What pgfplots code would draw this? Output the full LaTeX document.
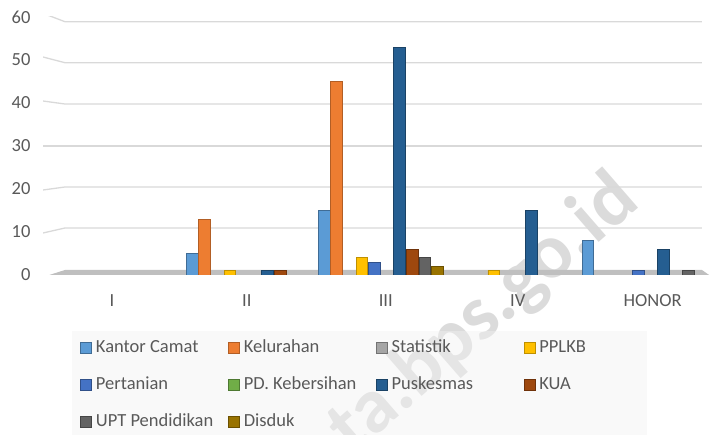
\documentclass[border=0pt]{standalone}
\usepackage{fontspec}
\setmainfont{Carlito}
\usepackage{pgfplots}
\usepackage{pgfplotstable}
\pgfplotsset{compat=1.18}
\definecolor{ckc}{HTML}{5B9BD5}
\definecolor{cke}{HTML}{ED7D31}
\definecolor{cst}{HTML}{A5A5A5}
\definecolor{cpp}{HTML}{FFC000}
\definecolor{cpe}{HTML}{4472C4}
\definecolor{cpd}{HTML}{70AD47}
\definecolor{cpu}{HTML}{255E91}
\definecolor{cku}{HTML}{9E480E}
\definecolor{cup}{HTML}{636363}
\definecolor{cdi}{HTML}{997300}
\definecolor{tickgray}{HTML}{595959}
\definecolor{gridc}{HTML}{D9D9D9}
\definecolor{legbg}{HTML}{F2F2F2}
\definecolor{floorc}{HTML}{BFBFBF}
\definecolor{floord}{HTML}{595959}

\pgfplotstableread{
x KC KE ST PP PE PD PU KU UP DI
0 0 0 0 0 0 0 0 0 0 0
1 5 13 0 1 0 0 1 1 0 0
2 15 45 0 4 3 0 53 6 4 2
3 0 0 0 1 0 0 15 0 0 0
4 8 0 0 0 1 0 6 0 1 0
}\datatable

\begin{document}
\begin{tikzpicture}
\node[rotate=41, text=black!14, font=\bfseries\fontsize{78bp}{78bp}\selectfont] at (484bp,120bp) {ta.bps.go.id};
\begin{axis}[
  at={(43bp,160bp)}, anchor=south west,
  scale only axis, width=669bp, height=258bp,
  xmin=-0.56, xmax=4.51, ymin=0, ymax=60,
  ybar=0.8bp, bar width=11.8bp,
  axis line style={draw=none},
  major tick length=0pt,
  xtick={-0.038,0.985,2.038,3.038,4.06},
  xticklabels={I,II,III,IV,HONOR},
  ytick={0,10,...,60},
  tick label style={font=\fontsize{18.5bp}{20bp}\selectfont, text=tickgray},
  /pgf/number format/assume math mode=true,
  xticklabel style={yshift=-16bp},
  yticklabel style={xshift=-9bp},
  legend columns=4,
  legend style={at={(axis description cs:0.0433,-0.217)}, anchor=north west,
    fill=legbg, fill opacity=0.45, text opacity=1, draw=none, inner xsep=8bp, inner ysep=10bp,
    column sep=0pt, row sep=23bp,
    font=\fontsize{18.5bp}{20bp}\selectfont, text=tickgray,
    nodes={inner sep=0pt, text height=11bp, text depth=3bp}},
  /tikz/every odd column/.append style={column sep=4bp},
  legend image code/.code={\draw[#1, line width=0.8bp, fill opacity=1] (0bp,-5.5bp) rectangle (11bp,5.5bp);},
  every axis plot/.append style={line width=0.9bp},
]
% floor
\fill[floorc] ([yshift=-2bp]axis cs:-0.56,0) -- ([yshift=5bp]axis cs:-0.394,0) -- ([yshift=5bp]axis cs:4.434,0) -- ([yshift=-2bp]axis cs:4.51,0) -- cycle;
\draw[floord, line width=2.2bp] ([yshift=-2bp]axis cs:-0.56,0) -- ([yshift=-2bp]axis cs:4.51,0);
% grid lines (back wall with side wall slant)
\draw[gridc, line width=1.3bp] ([yshift=-1bp]axis cs:-0.56,10) -- ([yshift=4bp]axis cs:-0.394,10) -- ([yshift=4bp]axis cs:4.434,10);
\draw[gridc, line width=1.3bp] ([yshift=-1bp]axis cs:-0.56,20) -- ([yshift=2bp]axis cs:-0.394,20) -- ([yshift=2bp]axis cs:4.434,20);
\draw[gridc, line width=1.3bp] ([yshift=0bp]axis cs:-0.56,30) -- ([yshift=0bp]axis cs:-0.394,30) -- ([yshift=0bp]axis cs:4.434,30);
\draw[gridc, line width=1.3bp] ([yshift=2bp]axis cs:-0.56,40) -- ([yshift=-1bp]axis cs:-0.394,40) -- ([yshift=-1bp]axis cs:4.434,40);
\draw[gridc, line width=1.3bp] ([yshift=3bp]axis cs:-0.56,50) -- ([yshift=-2.7bp]axis cs:-0.394,50) -- ([yshift=-2.7bp]axis cs:4.434,50);
\draw[gridc, line width=1.3bp] ([yshift=3.7bp]axis cs:-0.56,60) -- ([yshift=-4.7bp]axis cs:-0.394,60) -- ([yshift=-4.7bp]axis cs:4.434,60);

\addplot[fill=ckc, draw=ckc!70!black] table[x=x, y=KC] {\datatable};
\addlegendentry{\makebox[132bp][l]{Kantor Camat}}
\addplot[fill=cke, draw=cke!75!black] table[x=x, y=KE] {\datatable};
\addlegendentry{\makebox[132bp][l]{Kelurahan}}
\addplot[fill=cst, draw=cst!70!black] table[x=x, y=ST] {\datatable};
\addlegendentry{\makebox[132bp][l]{Statistik}}
\addplot[fill=cpp, draw=cpp!75!black] table[x=x, y=PP] {\datatable};
\addlegendentry{\makebox[100bp][l]{PPLKB}}
\addplot[fill=cpe, draw=cpe!70!black] table[x=x, y=PE] {\datatable};
\addlegendentry{\makebox[132bp][l]{Pertanian}}
\addplot[fill=cpd, draw=cpd!70!black] table[x=x, y=PD] {\datatable};
\addlegendentry{\makebox[132bp][l]{PD. Kebersihan}}
\addplot[fill=cpu, draw=cpu!70!black] table[x=x, y=PU] {\datatable};
\addlegendentry{\makebox[132bp][l]{Puskesmas}}
\addplot[fill=cku, draw=cku!70!black] table[x=x, y=KU] {\datatable};
\addlegendentry{\makebox[100bp][l]{KUA}}
\addplot[fill=cup, draw=cup!70!black] table[x=x, y=UP] {\datatable};
\addlegendentry{\makebox[132bp][l]{UPT Pendidikan}}
\addplot[fill=cdi, draw=cdi!70!black] table[x=x, y=DI] {\datatable};
\addlegendentry{\makebox[132bp][l]{Disduk}}
\end{axis}
\pgfresetboundingbox
\path[use as bounding box] (0,0) rectangle (716bp,435bp);
\end{tikzpicture}
\end{document}
